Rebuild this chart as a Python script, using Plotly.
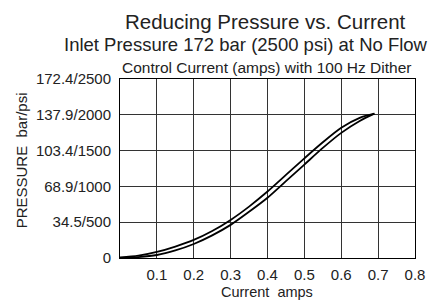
import plotly.graph_objects as go

current_up = [0.0, 0.05, 0.1, 0.15, 0.2, 0.25, 0.3, 0.35, 0.4, 0.45, 0.5, 0.55, 0.6, 0.65, 0.69]
pressure_up = [0.5, 2.2, 5.8, 11.0, 17.4, 26.0, 36.7, 49.5, 64.0, 80.0, 96.0, 111.5, 125.5, 135.0, 139.0]
current_dn = [0.0, 0.05, 0.1, 0.15, 0.2, 0.25, 0.3, 0.35, 0.4, 0.45, 0.5, 0.55, 0.6, 0.65, 0.69]
pressure_dn = [0.0, 0.9, 2.9, 7.3, 13.5, 21.8, 31.9, 44.5, 58.0, 74.0, 90.0, 106.0, 120.5, 132.0, 139.0]

y_ticks = [0, 34.5, 68.9, 103.4, 137.9, 172.4]
y_labels = ["0", "34.5/500", "68.9/1000", "103.4/1500", "137.9/2000", "172.4/2500"]
x_ticks = [0.1, 0.2, 0.3, 0.4, 0.5, 0.6, 0.7, 0.8]
x_labels = ["0.1", "0.2", "0.3", "0.4", "0.5", "0.6", "0.7", "0.8"]

font = "Liberation Sans, Arial, sans-serif"

# page body adds an 8px offset; figure is sized to fit the 437x301 window
OFF = 8
W, H = 437 - OFF, 301 - OFF
pl, pr, pt, pb = 120 - OFF, 425 - OFF, 79 - OFF, 258 - OFF

fig = go.Figure()
fig.add_trace(go.Scatter(x=current_up, y=pressure_up, mode="lines",
                         line=dict(color="black", width=1.8, shape="spline", smoothing=0.8)))
fig.add_trace(go.Scatter(x=current_dn, y=pressure_dn, mode="lines",
                         line=dict(color="black", width=1.8, shape="spline", smoothing=0.8)))

fig.update_layout(
    width=W, height=H,
    margin=dict(l=pl, r=W - pr, t=pt, b=H - pb, pad=0),
    paper_bgcolor="white", plot_bgcolor="white",
    showlegend=False,
    font=dict(family=font, color="#222", size=15),
    xaxis=dict(range=[0, 0.8], tickvals=x_ticks, ticktext=x_labels,
               showgrid=True, gridcolor="#333", gridwidth=1,
               showline=True, linecolor="black", linewidth=1, mirror=True,
               zeroline=False, ticks="", tickfont=dict(size=15), ticklabelstandoff=3),
    yaxis=dict(range=[0, 172.4], tickvals=y_ticks, ticktext=y_labels,
               showgrid=True, gridcolor="#333", gridwidth=1,
               showline=True, linecolor="black", linewidth=1, mirror=True,
               zeroline=False, ticks="", tickfont=dict(size=15), ticklabelstandoff=5),
)

annots = [
    ("Reducing Pressure vs. Current", 270, 21, 20.5, 0),
    ("Inlet Pressure 172 bar (2500 psi) at No Flow", 250, 44, 18.5, 0),
    ("Control Current (amps) with 100 Hz Dither", 271, 67, 15.5, 0),
    ("Current  amps", 272, 292, 14.5, 0),
    ("PRESSURE  bar/psi", 18, 160, 15, -90),
]
for text, px, py, size, ang in annots:
    fig.add_annotation(text=text,
                       x=(px - OFF - pl) / (pr - pl), y=(pb - (py - OFF)) / (pb - pt),
                       xref="paper", yref="paper", xanchor="center", yanchor="middle",
                       showarrow=False, textangle=ang, font=dict(size=size))

fig.write_html("out.html")
